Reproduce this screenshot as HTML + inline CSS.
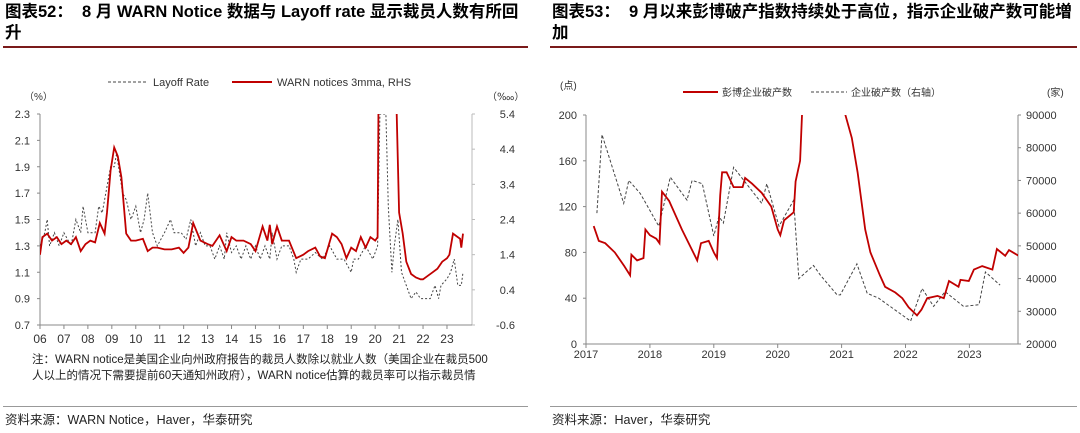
<!DOCTYPE html>
<html><head><meta charset="utf-8">
<style>
body{margin:0;width:1080px;height:433px;background:#fff;overflow:hidden;font-family:"Liberation Sans","Noto Sans CJK SC",sans-serif;position:relative}
.t{position:absolute;font-weight:bold;font-size:16.5px;color:#000;line-height:21px;white-space:nowrap}
.n{position:absolute;font-size:11.5px;color:#222;line-height:16px}
.hr{position:absolute;height:1.5px;background:#7a1a1a}
svg{position:absolute;left:0;top:0}
</style></head><body>
<div class="t" style="left:5px;top:2px;width:530px">图表52：&nbsp; 8 月 WARN Notice 数据与 Layoff rate 显示裁员人数有所回<br>升</div>
<div class="hr" style="left:3px;top:46px;width:525px"></div>
<div class="t" style="left:552px;top:2px;width:520px">图表53：&nbsp; 9 月以来彭博破产指数持续处于高位，指示企业破产数可能増<br>加</div>
<div class="hr" style="left:550px;top:46px;width:527px"></div>
<div class="n" style="left:32px;top:352px;width:462px">注：WARN notice是美国企业向州政府报告的裁员人数除以就业人数（美国企业在裁员500人以上的情况下需要提前60天通知州政府），WARN notice估算的裁员率可以指示裁员情</div>
<div class="n" style="left:5px;top:412px;font-size:12.5px">资料来源：WARN Notice，Haver，华泰研究</div>
<div class="hr" style="left:3px;top:406px;width:525px;height:1px;background:#999"></div>
<div class="n" style="left:552px;top:412px;font-size:12.5px">资料来源：Haver，华泰研究</div>
<div class="hr" style="left:550px;top:406px;width:527px;height:1px;background:#999"></div>
<svg id="c" width="1080" height="433"></svg>
<script>
const layoffYears=[2006,2006.2,2006.3,2006.4,2006.6,2006.8,2007,2007.3,2007.5,2007.7,2007.8,2008,2008.3,2008.45,2008.6,2008.75,2008.95,2009.1,2009.2,2009.45,2009.6,2009.8,2010,2010.2,2010.35,2010.5,2010.7,2010.9,2011.2,2011.45,2011.6,2011.9,2012.1,2012.3,2012.5,2012.7,2012.9,2013.1,2013.3,2013.5,2013.7,2013.8,2014,2014.2,2014.4,2014.6,2014.8,2015,2015.2,2015.4,2015.6,2015.7,2015.9,2016.1,2016.4,2016.6,2016.7,2016.9,2017.2,2017.5,2017.8,2018.1,2018.4,2018.7,2019,2019.1,2019.3,2019.6,2019.9,2020.1,2020.2,2020.25,2020.45,2020.55,2020.7,2020.8,2020.95,2021.1,2021.3,2021.5,2021.7,2021.9,2022.1,2022.3,2022.5,2022.65,2022.75,2023,2023.15,2023.3,2023.45,2023.6,2023.67];
const layoffVals=[1.3,1.4,1.5,1.3,1.4,1.3,1.4,1.3,1.5,1.4,1.6,1.4,1.4,1.6,1.55,1.7,1.9,1.9,2.0,1.7,1.65,1.5,1.6,1.4,1.5,1.7,1.4,1.3,1.4,1.5,1.4,1.4,1.35,1.5,1.3,1.4,1.3,1.3,1.2,1.3,1.2,1.4,1.25,1.3,1.2,1.3,1.2,1.3,1.2,1.3,1.2,1.4,1.2,1.3,1.3,1.2,1.1,1.2,1.2,1.25,1.2,1.3,1.2,1.2,1.1,1.2,1.2,1.3,1.2,1.3,2.3,2.3,2.3,1.6,1.1,1.3,1.5,1.1,1.0,0.9,0.95,0.9,0.9,0.9,1.0,0.9,1.0,1.05,1.1,1.2,1.0,1.0,1.1];
const warnYears=[2006,2006.1,2006.3,2006.5,2006.7,2006.9,2007.1,2007.3,2007.5,2007.7,2007.9,2008.1,2008.3,2008.5,2008.7,2008.8,2008.95,2009.1,2009.25,2009.4,2009.6,2009.8,2010,2010.3,2010.5,2010.7,2010.9,2011.2,2011.5,2011.8,2012,2012.2,2012.4,2012.7,2013,2013.2,2013.5,2013.8,2014,2014.2,2014.5,2014.8,2015,2015.3,2015.5,2015.6,2015.7,2015.9,2016.1,2016.4,2016.7,2017,2017.2,2017.5,2017.7,2017.9,2018.2,2018.4,2018.6,2018.8,2019,2019.2,2019.4,2019.6,2019.8,2020,2020.1,2020.15,2020.25,2020.8,2020.9,2021,2021.15,2021.3,2021.5,2021.7,2021.9,2022,2022.2,2022.4,2022.6,2022.8,2023,2023.1,2023.25,2023.45,2023.55,2023.6,2023.67];
const warnVals=[1.4,1.9,2.0,1.8,1.9,1.7,1.8,1.7,1.9,1.5,1.7,1.8,1.75,2.3,2.0,2.6,3.8,4.45,4.2,3.6,2.0,1.8,1.8,1.85,1.5,1.6,1.6,1.55,1.55,1.6,1.45,1.6,2.3,1.8,1.7,1.65,1.95,1.5,1.9,1.8,1.8,1.7,1.5,2.2,1.8,2.25,1.7,2.2,1.8,1.8,1.3,1.4,1.5,1.6,1.35,1.3,2.0,1.9,1.7,1.3,1.6,1.5,1.9,1.6,1.9,1.8,1.9,7,9,6,5.4,2.6,2.0,1.2,0.85,0.75,0.7,0.7,0.8,0.9,1.0,1.2,1.3,1.4,2.0,1.9,1.85,1.6,2.0];
const leftYTicks=[0.7,0.9,1.1,1.3,1.5,1.7,1.9,2.1,2.3];
const leftRTicks=[-0.6,0.4,1.4,2.4,3.4,4.4,5.4];
const leftXTicks=['06','07','08','09','10','11','12','13','14','15','16','17','18','19','20','21','22','23'];
const bbgYears=[2017.12,2017.2,2017.3,2017.45,2017.6,2017.69,2017.71,2017.8,2017.9,2017.93,2018.0,2018.1,2018.15,2018.19,2018.3,2018.5,2018.74,2018.8,2018.92,2019.0,2019.05,2019.1,2019.13,2019.2,2019.31,2019.45,2019.49,2019.6,2019.75,2019.9,2020.0,2020.04,2020.1,2020.25,2020.28,2020.35,2020.38,2020.42,2021.0,2021.06,2021.16,2021.25,2021.37,2021.45,2021.6,2021.68,2021.84,2021.95,2022.05,2022.18,2022.25,2022.34,2022.5,2022.6,2022.68,2022.83,2022.86,2022.99,2023.07,2023.2,2023.36,2023.43,2023.56,2023.62,2023.77];
const bbgVals=[103,90,88,80,68,60,78,73,75,100,95,92,88,133,125,100,73,88,90,80,75,130,150,150,137,137,145,140,132,120,100,95,108,115,142,160,200,230,230,200,180,150,100,80,60,50,45,40,32,25,30,40,42,40,55,50,56,55,65,68,65,83,77,82,77];
const bkYears=[2017.17,2017.25,2017.59,2017.67,2017.85,2018.14,2018.32,2018.58,2018.66,2018.82,2019.0,2019.08,2019.15,2019.31,2019.75,2019.83,2020.02,2020.25,2020.33,2020.56,2020.67,2020.93,2020.98,2021.24,2021.4,2021.58,2022.08,2022.26,2022.44,2022.62,2022.91,2023.15,2023.25,2023.48];
const bkVals=[60000,84000,63000,70000,66000,56000,71000,64000,70000,69000,53000,59000,57000,74000,63000,69000,56000,64000,40000,44000,41000,35000,35000,44500,35500,34000,27000,37000,31500,36000,31500,32000,42000,38000];
const rightYTicks=[0,40,80,120,160,200];
const rightRTicks=[20000,30000,40000,50000,60000,70000,80000,90000];
const rightXTicks=[2017,2018,2019,2020,2021,2022,2023];

const NS='http://www.w3.org/2000/svg',svg=document.getElementById('c');
function el(t,a,txt){const e=document.createElementNS(NS,t);for(const k in a)e.setAttribute(k,a[k]);if(txt!==undefined)e.textContent=txt;svg.appendChild(e);return e;}
const F='"Liberation Sans","Noto Sans CJK SC",sans-serif';
const lx=y=>40+(y-2006)*23.94, ly=v=>325-(v-0.7)/1.6*211, lr=v=>325-(v+0.6)/6*211;
const rx=y=>586+(y-2017)*63.9, ry=v=>344-v/200*229, rr=v=>344-(v-20000)/70000*229;
const defs=el('defs',{});
defs.innerHTML='<clipPath id="clipL"><rect x="40" y="114" width="432" height="211"/></clipPath><clipPath id="clipR"><rect x="586" y="115" width="432" height="229"/></clipPath>';
let e=el('line',{x1:40,y1:114,x2:40,y2:325,stroke:'#888'});
e=el('line',{x1:472,y1:114,x2:472,y2:325,stroke:'#bbb'});
e=el('line',{x1:40,y1:325,x2:472,y2:325,stroke:'#888'});
leftYTicks.forEach(v=>{e=el('text',{x:30,y:ly(v)+4,'text-anchor':'end','font-size':11,fill:'#333','font-family':F},v.toFixed(1));el('line',{x1:37,x2:40,y1:ly(v),y2:ly(v),stroke:'#888'});});
leftRTicks.forEach(v=>{e=el('text',{x:515,y:lr(v)+4,'text-anchor':'end','font-size':11,fill:'#333','font-family':F},v.toFixed(1));el('line',{x1:472,x2:475,y1:lr(v),y2:lr(v),stroke:'#bbb'});});
leftXTicks.forEach((t,i)=>{const x=lx(2006+i);el('line',{x1:x,x2:x,y1:325,y2:329,stroke:'#888'});e=el('text',{x:x,y:343,'text-anchor':'middle','font-size':12,fill:'#333','font-family':F},t);});
e=el('text',{x:24,y:100,'font-size':10,fill:'#333','font-family':F},'（%）');
e=el('text',{x:487,y:100,'font-size':10,fill:'#333','font-family':F},'（‱）');
el('line',{x1:108,x2:148,y1:82,y2:82,stroke:'#444','stroke-dasharray':'3,2'});
e=el('text',{x:153,y:86,'font-size':11,fill:'#333','font-family':F},'Layoff Rate');
el('line',{x1:232,x2:272,y1:82,y2:82,stroke:'#c00000','stroke-width':2});
e=el('text',{x:277,y:86,'font-size':11,fill:'#333','font-family':F},'WARN notices 3mma, RHS');
e=el('path',{d:'M'+layoffYears.map((y,i)=>lx(y).toFixed(1)+','+ly(layoffVals[i]).toFixed(1)).join('L'),fill:'none',stroke:'#444','stroke-width':1,'stroke-dasharray':'2,2','clip-path':'url(#clipL)'});
e=el('path',{d:'M'+warnYears.map((y,i)=>lx(y).toFixed(1)+','+lr(warnVals[i]).toFixed(1)).join('L'),fill:'none',stroke:'#c00000','stroke-width':1.8,'clip-path':'url(#clipL)'});
e=el('line',{x1:586,y1:115,x2:586,y2:344,stroke:'#888'});
e=el('line',{x1:1018,y1:115,x2:1018,y2:344,stroke:'#888'});
e=el('line',{x1:586,y1:344,x2:1018,y2:344,stroke:'#888'});
rightYTicks.forEach(v=>{e=el('text',{x:577,y:ry(v)+4,'text-anchor':'end','font-size':11,fill:'#333','font-family':F},v);el('line',{x1:583,x2:586,y1:ry(v),y2:ry(v),stroke:'#888'});});
rightRTicks.forEach(v=>{e=el('text',{x:1026,y:rr(v)+4,'font-size':11,fill:'#333','font-family':F},v);el('line',{x1:1018,x2:1021,y1:rr(v),y2:rr(v),stroke:'#888'});});
rightXTicks.forEach(t=>{const x=rx(t);el('line',{x1:x,x2:x,y1:344,y2:348,stroke:'#888'});e=el('text',{x:x,y:358,'text-anchor':'middle','font-size':11,fill:'#333','font-family':F},t);});
e=el('text',{x:560,y:89,'font-size':10,fill:'#333','font-family':F},'(点)');
e=el('text',{x:1047,y:96,'font-size':10,fill:'#333','font-family':F},'(家)');
el('line',{x1:683,x2:718,y1:92,y2:92,stroke:'#c00000','stroke-width':2});
e=el('text',{x:722,y:96,'font-size':10,fill:'#333','font-family':F},'彭博企业破产数');
el('line',{x1:811,x2:847,y1:92,y2:92,stroke:'#444','stroke-dasharray':'3,2'});
e=el('text',{x:851,y:96,'font-size':10,fill:'#333','font-family':F},'企业破产数（右轴）');
e=el('path',{d:'M'+bkYears.map((y,i)=>rx(y).toFixed(1)+','+rr(bkVals[i]).toFixed(1)).join('L'),fill:'none',stroke:'#444','stroke-width':1,'stroke-dasharray':'3,2','clip-path':'url(#clipR)'});
e=el('path',{d:'M'+bbgYears.map((y,i)=>rx(y).toFixed(1)+','+ry(bbgVals[i]).toFixed(1)).join('L'),fill:'none',stroke:'#c00000','stroke-width':1.8,'clip-path':'url(#clipR)'});
</script>
</body></html>
